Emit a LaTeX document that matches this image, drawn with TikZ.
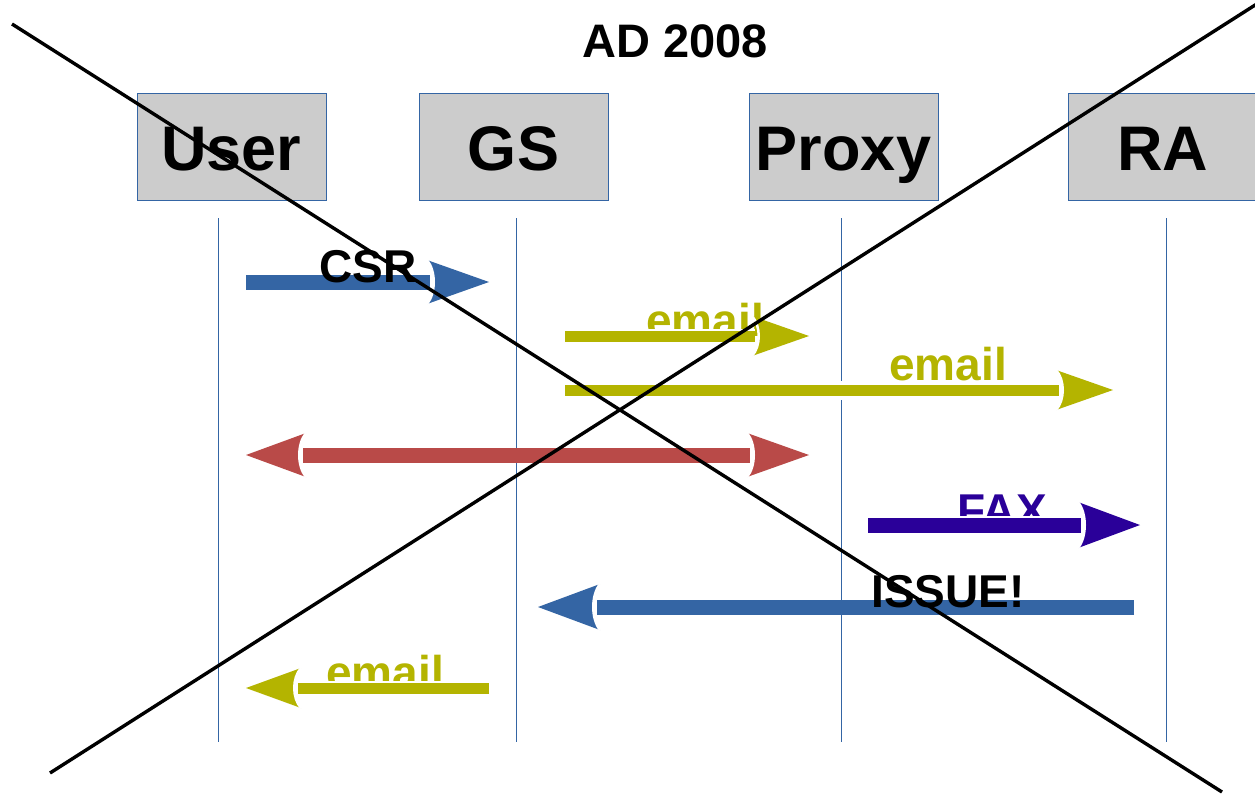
\documentclass[tikz,border=0pt]{standalone}
\usepackage{fontspec}
\setmainfont{Liberation Sans}
\definecolor{lblue}{HTML}{3465A4}
\definecolor{boxgray}{HTML}{CCCCCC}
\definecolor{olive}{HTML}{B4B400}
\definecolor{redm}{HTML}{B94A48}
\definecolor{purp}{HTML}{2A0099}
\tikzset{
  lifeline/.style={draw=lblue, line width=1pt},
  actor/.style={draw=lblue, fill=boxgray, line width=0.8pt, minimum width=189pt, minimum height=107pt, inner sep=0pt},
  actortext/.style={font=\fontsize{63}{70}\selectfont\bfseries, anchor=base, inner sep=0pt},
  msg/.style={font=\fontsize{46}{50}\selectfont\bfseries, anchor=base, inner sep=0pt},
  titletext/.style={font=\fontsize{47}{52}\selectfont\bfseries, anchor=base, inner sep=0pt},
  cross/.style={line width=3.4pt, black},
  thickshaft/.style={line width=15pt},
  thinshaft/.style={line width=11pt},
  pics/head/.style n args={3}{code={
    \fill[#1] (0,0) -- (-#2,-#3) .. controls (-#2+9,-#3/2) and (-#2+9,#3/2) .. (-#2,#3) -- cycle;
    \draw[white, line width=2.5pt] (-#2,-#3) .. controls (-#2+9,-#3/2) and (-#2+9,#3/2) .. (-#2,#3);
  }},
}
\begin{document}
\begin{tikzpicture}[x=1pt,y=-1pt]
\useasboundingbox[fill=white] (0,0) rectangle (1255,793);

% title
\node[titletext] (title) at (675,57) {AD 2008};

% actors
\node[actor] (user) at (231.5,146.5) {};
\node[actor] (gs) at (513.5,146.5) {};
\node[actor] (proxy) at (843.5,146.5) {};
\node[actor] (ra) at (1162.5,146.5) {};
\node[actortext] (userT) at (231.5,170) {User};
\node[actortext] (gsT) at (513.5,170) {GS};
\node[actortext] (proxyT) at (843.5,170) {Proxy};
\node[actortext] (raT) at (1162.5,170) {RA};

% lifelines
\coordinate (uTop) at (218,218); \coordinate (uBot) at (218,742);
\coordinate (gTop) at (516,218); \coordinate (gBot) at (516,742);
\coordinate (pTop) at (841,218); \coordinate (pBot) at (841,742);
\coordinate (rTop) at (1166,218); \coordinate (rBot) at (1166,742);
\draw[lifeline] (uTop) -- (uBot);
\draw[lifeline] (gTop) -- (gBot);
\draw[lifeline] (pTop) -- (pBot);
\draw[lifeline] (rTop) -- (rBot);

% message end points
\coordinate (csrS) at (246,282); \coordinate (csrE) at (489,282);
\coordinate (e1S) at (565,336); \coordinate (e1E) at (809,336);
\coordinate (e2S) at (565,390); \coordinate (e2E) at (1113,390);
\coordinate (rdS) at (246,455); \coordinate (rdE) at (809,455);
\coordinate (faxS) at (868,525); \coordinate (faxE) at (1140,525);
\coordinate (isS) at (1134,607); \coordinate (isE) at (538,607);
\coordinate (e3S) at (489,688); \coordinate (e3E) at (246,688);

% labels behind shafts
\node[msg, text=olive] (e1L) at (705,336) {email};
\node[msg, text=olive] (e2L) at (948,380) {email};
\node[msg, text=purp] (faxL) at (1002,526) {FAX};
\node[msg, text=olive] (e3L) at (385,688) {email};

% white separators for clipped labels
\draw[white, line width=14pt, shorten >=54pt] (e1S) -- (e1E);
\draw[white, line width=19pt, shorten >=54pt] (e2S) -- (e2E);
\draw[white, line width=18pt, shorten >=59pt] (faxS) -- (faxE);
\draw[white, line width=14pt, shorten >=54pt] (e3S) -- (e3E);

% arrows
\draw[lblue, thickshaft, shorten >=59pt] (csrS) -- (csrE);
\pic at (csrE) {head={lblue}{62}{22}};

\draw[olive, thinshaft, shorten >=54pt] (e1S) -- (e1E);
\pic at (e1E) {head={olive}{57}{20}};

\draw[olive, thinshaft, shorten >=54pt] (e2S) -- (e2E);
\pic at (e2E) {head={olive}{57}{20}};

\draw[redm, thickshaft, shorten <=57pt, shorten >=59pt] (rdS) -- (rdE);
\pic at (rdE) {head={redm}{62}{22}};
\pic[xscale=-1] at (rdS) {head={redm}{60}{22}};

\draw[purp, thickshaft, shorten >=59pt] (faxS) -- (faxE);
\pic at (faxE) {head={purp}{62}{23}};

\draw[lblue, thickshaft, shorten >=59pt] (isS) -- (isE);
\pic[xscale=-1] at (isE) {head={lblue}{62}{23}};

\draw[olive, thinshaft, shorten >=52pt] (e3S) -- (e3E);
\pic[xscale=-1] at (e3E) {head={olive}{55}{20}};

% labels over shafts
\node[msg] (csrL) at (368,282) {CSR};
\node[msg] (isL) at (948,607) {ISSUE!};

% crossing out
\coordinate (x1a) at (12,24); \coordinate (x1b) at (1222,792);
\coordinate (x2a) at (50,773); \coordinate (x2b) at (1263,0);
\draw[cross] (x1a) -- (x1b);
\draw[cross] (x2a) -- (x2b);
\end{tikzpicture}
\end{document}
